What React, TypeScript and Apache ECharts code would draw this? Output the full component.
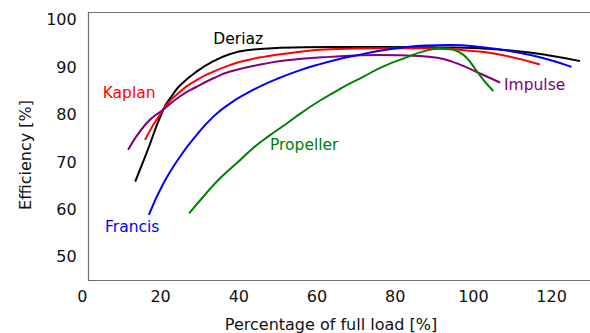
import React, { useEffect, useRef } from "react";
import * as echarts from "echarts";

// Curves: [percentage of full load, efficiency]
const deriaz: [number, number][] = [
  [13.5, 65.9], [16.4, 71.9], [20.7, 81.1], [23.0, 84.1], [25.0, 86.2], [29.2, 89.1],
  [33.5, 91.3], [37.8, 92.8], [42.0, 93.6], [50.5, 94.1], [63.3, 94.3], [76.1, 94.3],
  [91.4, 94.2], [101.7, 94.0], [110.2, 93.5], [118.7, 92.6], [127.3, 91.3],
];
const kaplan: [number, number][] = [
  [16.0, 74.7], [20.7, 81.1], [25.0, 84.9], [29.2, 87.3], [33.5, 89.1], [37.8, 90.5],
  [42.0, 91.5], [46.3, 92.2], [52.3, 92.9], [63.3, 93.8], [76.1, 94.0], [91.4, 94.0],
  [97.4, 93.6], [106.0, 92.8], [117.0, 90.6],
];
const impulse: [number, number][] = [
  [11.7, 72.6], [16.4, 78.2], [20.7, 81.1], [25.0, 83.9], [29.2, 85.9], [33.5, 87.7],
  [37.8, 89.1], [46.3, 90.7], [52.3, 91.5], [63.3, 92.2], [76.1, 92.6], [86.3, 92.4],
  [91.4, 91.9], [94.5, 91.2], [97.4, 90.3], [101.7, 88.7], [106.8, 86.8],
];
const francis: [number, number][] = [
  [17.0, 58.9], [20.7, 65.5], [25.0, 71.2], [29.2, 75.7], [33.5, 79.6], [37.8, 82.4],
  [42.0, 84.5], [46.0, 86.2], [50.5, 87.8], [55.0, 89.2], [60.0, 90.5], [65.0, 91.6],
  [70.0, 92.5], [76.0, 93.5], [82.0, 94.2], [88.0, 94.6], [94.0, 94.7], [101.7, 94.3],
  [110.2, 93.3], [117.5, 92.0], [125.1, 90.1],
];
const propeller: [number, number][] = [
  [27.3, 59.2], [30.9, 62.7], [35.2, 66.6], [39.5, 69.8], [43.7, 73.0], [48.0, 75.7],
  [52.0, 78.0], [56.0, 80.4], [60.8, 83.0], [66.0, 85.5], [71.8, 88.0], [77.0, 90.2],
  [82.9, 92.1], [87.0, 93.3], [91.0, 93.9], [94.0, 93.8], [96.6, 93.1], [98.5, 91.8],
  [100.0, 90.2], [102.5, 87.4], [105.1, 85.0],
];

const seriesNames = ["Deriaz", "Kaplan", "Impulse", "Francis", "Propeller"];
const seriesColors = ["#000000", "#ff0000", "#800080", "#0000ff", "#008000"];
const seriesData = [deriaz, kaplan, impulse, francis, propeller];

const xTitle = "Percentage of full load [%]";
const yTitle = "Efficiency [%]";

const FONT = "DejaVu Sans";
const SPINE = "#707070";

export default function App() {
  const ref = useRef<HTMLDivElement>(null);
  useEffect(() => {
    if (!ref.current) return;
    const chart = echarts.init(ref.current, null, { renderer: "svg" });
    const pxPerUnit = 3.91;
    const g0Left = 88.7;
    const g1Left = 82.4;
    const g0Width = 590 - g0Left;
    const g1Width = 590 - g1Left;
    const top = 12.3;
    const height = 268.4;
    const x0Min = (g0Left - g1Left) / pxPerUnit;
    const x0Max = x0Min + g0Width / pxPerUnit;
    const x1Max = g1Width / pxPerUnit;

    const labelText = (text: string, x: number, y: number, color: string) => ({
      type: "text",
      x,
      y,
      style: {
        text,
        fill: color,
        font: `15.5px "${FONT}"`,
        align: "left",
        verticalAlign: "middle",
      },
    });

    chart.setOption({
      animation: false,
      backgroundColor: "#ffffff",
      textStyle: { fontFamily: FONT },
      grid: [
        { left: g0Left, top, width: g0Width, height },
        { left: g1Left, top, width: g1Width, height },
      ],
      xAxis: [
        {
          type: "value",
          gridIndex: 0,
          min: x0Min,
          max: x0Max,
          axisLine: { show: true, lineStyle: { color: SPINE, width: 1.2 } },
          axisTick: { show: false },
          axisLabel: { show: false },
          splitLine: { show: false },
        },
        {
          type: "value",
          gridIndex: 0,
          position: "top",
          min: x0Min,
          max: x0Max,
          axisLine: { show: true, onZero: false, lineStyle: { color: SPINE, width: 1.2 } },
          axisTick: { show: false },
          axisLabel: { show: false },
          splitLine: { show: false },
        },
        {
          type: "value",
          gridIndex: 1,
          min: 0,
          max: x1Max,
          interval: 20,
          axisLine: { show: false },
          axisTick: { show: false },
          splitLine: { show: false },
          axisLabel: {
            show: true,
            fontSize: 16,
            fontFamily: FONT,
            color: "#111",
            margin: 8,
            showMinLabel: true,
            showMaxLabel: false,
            formatter: (v: number) => (Math.abs(v % 20) < 1e-6 ? String(v) : ""),
          },
        },
      ],
      yAxis: [
        {
          type: "value",
          gridIndex: 0,
          min: 45,
          max: 101.6,
          interval: 5,
          axisLine: { show: true, onZero: false, lineStyle: { color: SPINE, width: 1.2 } },
          axisTick: { show: false },
          splitLine: { show: false },
          axisLabel: {
            fontSize: 16,
            fontFamily: FONT,
            color: "#111",
            margin: 12,
            showMaxLabel: false,
            formatter: (v: number) => (Math.abs(v % 10) < 1e-6 ? String(v) : ""),
          },
        },
        {
          type: "value",
          gridIndex: 1,
          min: 45,
          max: 101.6,
          show: false,
        },
      ],
      series: seriesData.map((d, i) => ({
        name: seriesNames[i],
        type: "line",
        xAxisIndex: 0,
        yAxisIndex: 0,
        data: d,
        smooth: 0.5,
        showSymbol: false,
        symbol: "none",
        lineStyle: { color: seriesColors[i], width: 2 },
        itemStyle: { color: seriesColors[i] },
      })),
      graphic: [
        labelText("Deriaz", 213.3, 39, "#000000"),
        labelText("Kaplan", 102.7, 92.7, "#ff0000"),
        labelText("Impulse", 504, 85, "#800080"),
        labelText("Propeller", 270, 145, "#008000"),
        labelText("Francis", 105, 226.7, "#0000ff"),
        {
          type: "text",
          x: 331,
          y: 324,
          style: {
            text: xTitle,
            fill: "#111",
            font: `16px "${FONT}"`,
            align: "center",
            verticalAlign: "middle",
          },
        },
        {
          type: "text",
          x: 25,
          y: 155,
          rotation: Math.PI / 2,
          style: {
            text: yTitle,
            fill: "#111",
            font: `16px "${FONT}"`,
            align: "center",
            verticalAlign: "middle",
          },
        },
      ],
    });
    return () => chart.dispose();
  }, []);
  return (
    <div
      ref={ref}
      style={{ position: "absolute", left: 0, top: 0, width: 590, height: 333 }}
    />
  );
}
